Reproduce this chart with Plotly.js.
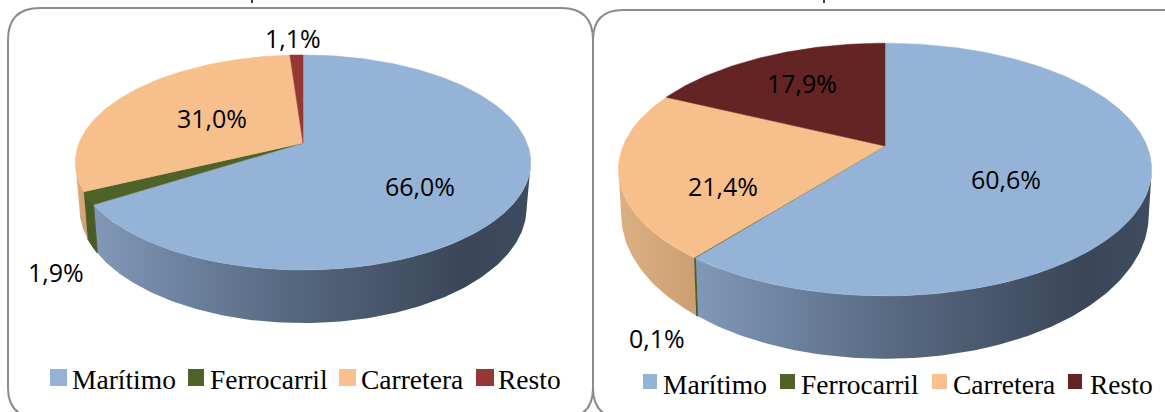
<!DOCTYPE html>
<html><head><meta charset="utf-8">
<script src="https://cdn.plot.ly/plotly-3.0.1.min.js"></script>
<style>html,body{margin:0;padding:0;background:#fff;overflow:hidden}#c{width:1165px;height:412px}</style>
</head><body><div id="c"></div>
<script>
const categories = ['Marítimo','Ferrocarril','Carretera','Resto'];
const sharesLeft = [66.0, 1.9, 31.0, 1.1];
const sharesRight = [60.6, 0.1, 21.4, 17.9];

const topColors = ['#95b3d7','#4f6228','#f6bf8c','#953735'];
const topColorsRight = ['#95b3d7','#4f6228','#f6bf8c','#632423'];
const legendLeft = ['#95b3d7','#4f6228','#fac090','#953735'];
const legendRight = ['#95b3d7','#4f6228','#fac090','#632423'];
const wallScales = [
  [[0,'#8198b8'],[0.45,'#566880'],[0.85,'#3a4658'],[1,'#3f4c60']],
  [[0,'#4a5c26'],[1,'#4a5c26']],
  [[0,'#dcb083'],[1,'#cc9f72']],
  [[0,'#6e2a28'],[1,'#6e2a28']]
];

// pie geometry: apex position, tilt, and the rim of the lower face of each tilted disc
const pieL = {cx:303, cy:143, a:104, b:224, k:0.181, midY:162, lowY:207, sx:0.982, sy:1.075};
const pieR = {cx:885, cy:146, a:122, b:262, k:0.186, midY:169.5, lowY:215, sx:0.989, sy:1.138};

function pt(p, frac){
  const t = frac*2*Math.PI, s = Math.sin(t), c = Math.cos(t), d = 1 + p.k*c;
  return [p.cx + p.b*s/d, p.cy - p.a*c/d];
}
function low(p, q){ return [p.cx + (q[0]-p.cx)*p.sx, p.lowY + (q[1]-p.midY)*p.sy]; }
function pieTraces(p, shares, cols){
  const walls = [], tops = [];
  let acc = 0;
  shares.forEach((v,i)=>{
    const f0 = acc/100, f1 = (acc+v)/100; acc += v;
    const n = Math.max(3, Math.ceil(v*4));
    const arc = [];
    for(let j=0;j<=n;j++) arc.push(pt(p, f0+(f1-f0)*j/n));
    const xs = [p.cx, ...arc.map(q=>q[0]), p.cx];
    const ys = [p.cy, ...arc.map(q=>q[1]), p.cy];
    tops.push({type:'scatter',mode:'lines',x:xs,y:ys,fill:'toself',fillcolor:cols[i],
      line:{color:cols[i],width:0.5},name:categories[i],showlegend:false,hoverinfo:'name'});
    const front = arc.filter(q=>q[1]>=p.midY);
    if(front.length>1){
      const under = front.slice().reverse().map(q=>low(p,q));
      const wx = [...front.map(q=>q[0]), ...under.map(q=>q[0])];
      const wy = [...front.map(q=>q[1]), ...under.map(q=>q[1])];
      wx.push(wx[0]); wy.push(wy[0]);
      walls.push({type:'scatter',mode:'lines',x:wx,y:wy,fill:'toself',
        fillgradient:{type:'horizontal',colorscale:wallScales[i]},
        line:{color:wallScales[i][1][1],width:i===1?1:0},showlegend:false,hoverinfo:'skip'});
    }
  });
  return [...walls, ...tops];
}
const fmt = v => v.toFixed(1).replace('.',',') + '%';

const labelPosL = [[420,186],[56,272],[212,118],[293,38]];
const labelPosR = [[1006,179],[657,338],[723,186],[802,83]];
const legendPosL = {sw:[[50,67],[188,204],[339,356],[476,494]], tx:[72,210,361,498], y0:369, y1:386, ty:379};
const legendPosR = {sw:[[643,657],[780,795],[932,947],[1068,1082]], tx:[663,801,953,1090], y0:374, y1:389, ty:384};

const annotations = [], shapes = [];
function addLabels(shares,pos){
  shares.forEach((v,i)=>annotations.push({x:pos[i][0],y:pos[i][1],xref:'x',yref:'y',text:fmt(v),showarrow:false,
    xanchor:'center',yanchor:'middle',font:{family:'Open Sans, Lato, sans-serif',size:25,color:'#000'}}));
}
function addLegend(cols,pos){
  categories.forEach((n,i)=>{
    shapes.push({type:'rect',xref:'x',yref:'y',x0:pos.sw[i][0],x1:pos.sw[i][1],y0:pos.y0,y1:pos.y1,
      fillcolor:cols[i],line:{width:0}});
    annotations.push({x:pos.tx[i],y:pos.ty,xref:'x',yref:'y',text:n,showarrow:false,xanchor:'left',yanchor:'middle',
      xshift:-2,font:{family:'Liberation Serif, serif',size:27.5,color:'#000'}});
  });
}
addLabels(sharesLeft,labelPosL); addLabels(sharesRight,labelPosR);
addLegend(legendLeft,legendPosL); addLegend(legendRight,legendPosR);

const frame = {type:'path',xref:'x',yref:'y',line:{color:'#8c8c8c',width:2},layer:'below'};
shapes.push({...frame,path:'M 8 40 Q 8 8 40 8 L 561 8 Q 593 8 593 40 L 593 388 Q 593 418 563 418 L 40 418 Q 8 418 8 388 Z'});
shapes.push({...frame,path:'M 593 40 Q 593 10 623 10 L 1200 10 L 1200 418 L 623 418 Q 593 418 593 388 Z'});
// descenders of the cropped titles above the frames
shapes.push({type:'line',xref:'x',yref:'y',x0:252,x1:252,y0:-1,y1:3,line:{color:'#000',width:1.5}});
shapes.push({type:'line',xref:'x',yref:'y',x0:824,x1:824,y0:-1,y1:3,line:{color:'#000',width:1.5}});

const traces = [...pieTraces(pieL,sharesLeft,topColors), ...pieTraces(pieR,sharesRight,topColorsRight)];
const hidden = {visible:false,fixedrange:true};
Plotly.newPlot('c',traces,{
  width:1165,height:412,margin:{l:0,r:0,t:0,b:0},
  paper_bgcolor:'#fff',plot_bgcolor:'#fff',showlegend:false,
  xaxis:{...hidden,range:[0,1165]},
  yaxis:{...hidden,range:[412,0]},
  annotations,shapes
},{staticPlot:true,displayModeBar:false});
</script></body></html>
